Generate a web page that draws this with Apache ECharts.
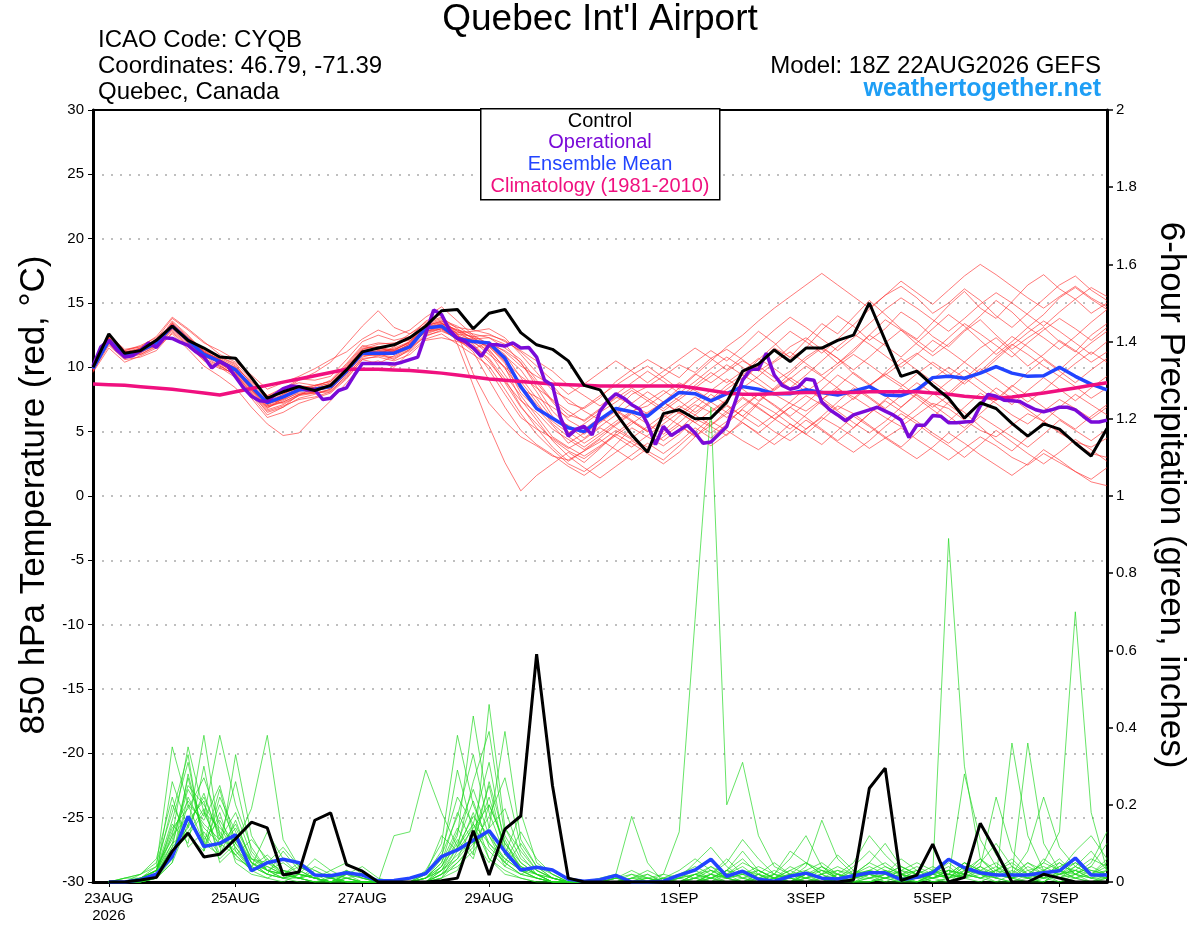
<!DOCTYPE html>
<html>
<head>
<meta charset="utf-8">
<script src="https://cdn.jsdelivr.net/npm/echarts@6/dist/echarts.min.js"></script>
<style>
  html, body { margin: 0; padding: 0; background: #fff; }
  #chart { width: 1200px; height: 927px; }
</style>
</head>
<body>
<div id="chart"></div>
<script>
// x is forecast hour counted from 22AUG2026 18Z
const tickHours = [6, 54, 102, 150, 222, 270, 318, 366];
const tickLabels = ['23AUG\n2026', '25AUG', '27AUG', '29AUG', '1SEP', '3SEP', '5SEP', '7SEP'];
const tempTicks = [-30, -25, -20, -15, -10, -5, 0, 5, 10, 15, 20, 25, 30];
const precipTicks = [0, 0.2, 0.4, 0.6, 0.8, 1, 1.2, 1.4, 1.6, 1.8, 2];

// 850 hPa temperature, 6-hourly (65 values)
const tempControl = [
  10.0, 12.6, 11.1, 11.3, 12.1, 13.2, 12.1, 11.5, 10.8, 10.7, 9.2, 7.6, 8.1, 8.5, 8.2, 8.6,
  9.8, 11.2, 11.5, 11.75, 12.3, 13.2, 14.4, 14.5, 13.0, 14.2, 14.5, 12.7, 11.75, 11.4, 10.5, 8.6,
  8.25, 6.45, 4.75, 3.4, 6.4, 6.7, 6.0, 6.05, 7.3, 9.7, 10.25, 11.35, 10.45, 11.5, 11.5, 12.1,
  12.5, 15.0, 12.1, 9.3, 9.7, 8.6, 7.6, 6.05, 7.25, 6.8, 5.65, 4.65, 5.6, 5.2, 4.1, 3.1, 5.25
];
const tempMean = [
  9.9, 12.1, 10.9, 11.3, 11.9, 13.2, 12.1, 11.0, 10.45, 9.8, 8.5, 7.25, 7.7, 8.25, 8.3, 8.5,
  9.7, 11.1, 11.1, 11.1, 11.6, 13.05, 13.2, 12.25, 12.0, 11.9, 10.7, 8.5, 6.8, 6.05, 5.3, 5.0,
  5.95, 6.8, 6.55, 6.2, 7.2, 8.05, 7.95, 7.4, 7.95, 8.5, 8.3, 7.95, 7.95, 8.25, 8.05, 7.85,
  8.15, 8.5, 7.85, 7.8, 8.25, 9.2, 9.3, 9.15, 9.55, 10.05, 9.55, 9.3, 9.35, 10.0, 9.3, 8.7, 8.25
];
const tempClimo = [
  8.7, 8.65, 8.6, 8.5, 8.4, 8.3, 8.15, 8.0, 7.85, 8.1, 8.35, 8.6, 8.85, 9.1, 9.35, 9.6,
  9.85, 9.85, 9.85, 9.8, 9.75, 9.65, 9.55, 9.4, 9.25, 9.1, 9.0, 8.9, 8.8, 8.7, 8.65, 8.6,
  8.55, 8.55, 8.55, 8.55, 8.55, 8.55, 8.4, 8.2, 8.0, 7.9, 7.9, 7.95, 8.0, 8.05, 8.05, 8.05,
  8.05, 8.1, 8.1, 8.1, 8.1, 8.0, 7.9, 7.75, 7.65, 7.6, 7.7, 7.85, 8.0, 8.2, 8.4, 8.6, 8.8
];
// operational run, 3-hourly (129 values)
const tempOper = [
  10.1, 11.6, 12.1, 11.35, 10.8, 10.9, 11.3, 11.9, 11.55, 12.3, 12.25, 11.95, 11.7, 11.2, 10.8, 9.95,
  10.45, 10.1, 9.25, 8.4, 7.75, 7.4, 7.35, 7.9, 8.35, 8.55, 8.5, 8.25, 8.25, 7.5, 7.6, 8.2,
  8.4, 9.4, 10.3, 10.3, 10.3, 10.3, 10.25, 10.4, 10.6, 10.8, 12.6, 14.45, 14.1, 12.9, 12.25, 12.0,
  11.5, 10.85, 11.75, 11.75, 11.65, 11.9, 11.5, 11.55, 10.8, 9.0, 8.6, 6.1, 4.65, 5.2, 5.4, 4.75,
  6.6, 7.4, 7.95, 7.6, 7.1, 6.75, 5.6, 4.0, 5.4, 4.7, 5.1, 5.5, 4.9, 4.1, 4.2, 4.8,
  5.4, 7.2, 9.0, 9.85, 9.85, 11.1, 9.4, 8.6, 8.3, 8.45, 9.1, 9.0, 7.3, 6.7, 6.3, 5.85,
  6.3, 6.5, 6.7, 6.9, 6.6, 6.3, 5.9, 4.55, 5.5, 5.5, 6.25, 6.2, 5.7, 5.7, 5.75, 5.8,
  7.0, 7.9, 7.75, 7.45, 7.4, 7.35, 7.0, 6.7, 6.55, 6.7, 6.9, 6.9, 6.7, 6.2, 5.75, 5.75,
  5.9
];
// ensemble members, 6-hourly (65 values each)
const tempMembers = [
  [9.8,12.3,11.0,11.2,11.8,13.5,12.4,11.3,10.6,9.9,8.2,6.9,7.4,8.1,8.6,8.9,10.1, 11.5,11.6,11.3,12.0,13.4,13.8,12.6,9.5,7.2,5.8, 4.6,3.9,3.1,2.8,3.5,4.2,5.1,4.4,3.8,5.0,6.2,7.1,6.5,7.4, 8.9,10.2,11.5,10.8,12.1,13.4,12.6,13.9,15.2,14.1,13.0,12.2,13.5,14.8,15.9,14.6,13.8,15.1,16.4,17.2,16.1,15.3,14.2,15.0],
  [10.0,11.8,10.7,11.4,12.0,12.9,11.8,10.7,10.1,9.4,8.0,6.5,6.9,7.6,7.9,8.3,9.5, 11.0,10.9,11.2,11.8,12.7,13.0,12.4,12.1,11.6,10.9, 9.8,8.1,6.2,5.0,4.1,4.9,5.8,6.6,7.0,7.9,8.8,8.2,7.5,8.6, 9.4,8.7,7.9,7.2,6.6,7.5,8.3,7.7,6.9,6.1,5.4,6.3,7.2,6.8,5.9,5.1,4.6,5.5,6.4,5.8,4.9,4.2,3.8,4.5],
  [9.7,12.0,11.2,11.1,12.2,13.8,12.9,11.9,11.3,10.6,9.1,7.8,8.2,9.0,9.6,10.4,11.8, 13.2,14.4,13.1,12.6,13.3,13.5,12.1,11.4,12.0,11.2, 10.1,9.3,8.6,7.2,6.8,7.6,8.9,9.8,10.6,9.9,9.2,10.4,11.3,10.5, 11.6,12.8,11.9,10.7,11.5,12.9,14.0,13.2,12.1,13.0,14.3,13.5,12.4,11.6,12.8,13.7,12.5,11.4,12.3,13.1,12.0,11.2,12.5,13.4],
  [9.6,11.5,10.4,10.9,11.5,12.6,11.4,10.1,9.3,8.4,6.9,5.6,4.7,4.9,6.2,7.4,8.8, 10.2,10.5,10.0,11.2,12.2,12.6,11.8,11.0,10.1,8.3, 6.4,4.8,3.6,2.5,1.9,2.8,4.0,5.3,4.6,3.9,4.8,6.0,5.4,4.7, 5.9,7.2,6.5,5.6,4.8,5.9,7.0,6.4,5.5,4.6,3.8,4.9,6.1,7.3,6.5,5.4,4.3,3.5,4.6,5.8,5.0,4.1,3.3,3.0],
  [10.1,12.4,11.3,11.7,12.3,13.3,12.0,10.9,10.4,10.0,8.9,7.7,8.0,8.4,8.0,8.2,9.3, 10.8,11.1,10.6,11.4,12.9,13.4,12.9,12.6,12.3,11.5, 10.6,9.0,7.4,6.3,5.9,6.8,7.7,7.1,6.4,7.3,8.4,9.5,8.8,9.7, 10.5,9.8,8.9,9.7,10.8,11.6,10.7,9.5,8.6,9.4,10.3,11.1,10.2,9.3,10.4,11.5,12.3,11.2,10.1,11.0,12.1,11.3,10.4,11.2],
  [9.9,12.2,11.1,11.0,11.6,13.0,12.2,11.4,10.8,10.2,8.7,7.2,7.9,8.6,8.4,8.8,10.0, 11.3,11.0,11.6,12.3,13.6,14.1,11.8,8.6,5.4,2.6, 0.4,1.6,2.5,3.4,2.6,3.7,4.9,5.8,5.0,6.1,7.0,6.3,5.5,6.4, 7.6,6.8,6.0,6.9,7.8,7.1,6.2,5.3,6.4,7.5,8.4,7.6,6.7,5.8,6.9,8.0,7.2,6.3,5.6,6.6,7.5,6.8,6.0,6.9],
  [9.8,11.9,10.8,11.5,12.1,13.1,11.9,10.8,10.5,9.7,8.3,7.0,7.3,7.9,8.1,8.6,9.9, 11.4,11.8,11.9,12.1,12.8,13.1,12.7,12.8,13.0,12.3, 11.0,9.6,8.2,7.5,6.6,5.9,6.7,7.9,8.5,9.3,10.2,9.6,10.7,11.4, 10.6,9.7,10.5,11.6,12.3,11.4,10.3,11.2,12.5,13.7,12.9,11.8,10.9,11.8,12.9,14.0,15.2,14.3,13.1,14.1,15.4,16.2,15.3,14.5],
  [10.2,12.1,10.9,11.3,11.9,13.6,12.5,11.2,10.2,9.3,7.6,6.1,6.5,7.2,7.6,8.0,9.1, 10.6,10.3,10.9,11.5,12.4,12.9,12.2,11.5,9.8,7.9, 6.1,5.2,4.5,3.7,4.4,5.3,4.6,3.8,4.7,5.6,6.5,5.7,4.9,5.8, 6.7,5.9,5.0,4.3,5.2,6.1,5.4,4.6,3.7,4.5,5.3,4.4,3.6,2.8,3.7,4.6,3.9,3.0,2.4,3.3,2.6,1.9,1.3,2.2],
  [9.9,12.5,11.4,11.6,12.4,13.9,13.0,12.0,11.0,10.4,9.4,8.3,8.8,9.3,9.9,10.6,11.2, 12.2,12.9,12.4,12.9,13.9,14.7,13.6,12.5,11.8,10.4, 8.6,7.1,5.8,4.9,5.6,6.5,7.3,8.2,7.4,6.6,7.5,8.4,9.3,10.2, 9.4,10.6,11.7,12.8,12.0,11.1,12.2,13.3,14.5,15.6,16.3,15.4,14.2,15.0,16.1,15.2,14.0,13.1,14.2,15.3,16.4,17.1,16.0,15.2],
  [9.7,11.7,10.6,10.8,11.3,12.7,11.6,10.6,10.0,9.2,7.9,6.6,7.0,7.5,7.7,8.1,9.4, 10.7,10.8,10.5,11.0,12.1,12.3,12.0,11.7,10.4,8.9, 7.4,6.5,5.2,4.4,3.6,4.5,5.5,6.4,5.6,4.8,5.7,6.8,7.9,7.1, 6.2,5.4,6.3,7.3,8.4,7.6,6.7,7.6,8.6,9.5,8.7,7.8,6.9,7.8,8.9,9.9,9.1,8.2,7.3,8.2,9.3,8.5,7.6,8.4],
  [10.0,12.2,11.0,11.4,12.0,13.4,12.3,11.1,10.7,10.1,8.8,7.5,7.2,7.8,8.5,9.0,10.3, 11.7,11.4,11.8,12.6,13.5,13.9,13.0,12.2,11.2,9.4, 7.8,6.2,4.6,3.8,3.1,3.9,4.8,4.1,3.3,2.5,3.4,4.6,5.8,5.1, 4.3,3.6,4.5,5.6,4.8,4.0,5.1,6.2,5.4,4.5,3.7,2.9,3.8,4.9,4.1,3.2,2.4,1.6,2.5,3.6,2.8,1.9,1.1,0.8],
  [9.8,12.0,10.8,11.2,11.7,12.8,11.7,10.5,9.9,9.6,8.5,7.4,8.3,9.1,9.0,9.3,10.6, 12.0,12.5,12.1,12.4,13.2,13.6,13.1,12.9,12.6,12.0, 11.3,10.5,9.7,8.6,7.8,7.0,7.9,8.8,9.7,8.9,8.0,8.9,9.9,10.8, 10.0,9.1,8.2,9.1,10.1,9.3,8.4,7.5,8.5,9.6,10.7,9.8,8.9,8.0,9.1,10.2,11.3,12.4,11.6,10.7,9.8,10.9,11.9,12.8],
  [10.1,12.3,11.2,11.5,12.2,13.1,12.1,11.0,10.3,9.5,8.1,6.8,7.6,8.2,8.1,8.5,9.8, 11.2,11.2,11.4,11.9,13.1,13.3,12.5,11.8,10.6,8.8, 6.9,5.6,4.4,3.5,2.9,3.8,4.7,5.6,6.5,7.3,6.5,5.7,6.6,7.5, 8.4,9.3,10.4,11.2,10.3,9.4,10.3,11.4,12.5,11.7,10.8,11.9,13.0,14.1,13.2,12.1,11.0,12.0,13.1,12.3,11.4,12.4,13.5,14.5],
  [9.9,12.1,11.1,11.3,12.0,13.2,12.0,11.1,10.4,9.8,8.4,7.1,7.7,8.3,8.3,8.4,9.6, 11.0,11.3,11.1,11.7,13.0,13.2,12.4,12.0,11.9,11.0, 9.2,7.6,6.0,5.5,4.8,5.7,6.6,5.8,5.0,5.9,6.8,7.7,6.9,6.1, 7.0,7.9,7.1,6.2,7.2,8.3,9.4,8.6,7.7,6.8,7.8,8.8,8.0,7.1,6.2,7.3,8.4,7.6,6.7,5.8,6.9,7.9,7.1,6.3],
  [9.8,12.4,11.3,11.6,12.1,13.4,12.2,11.2,10.6,9.9,8.6,7.3,7.8,8.4,8.6,8.7,9.8, 11.3,11.5,11.2,11.8,12.9,13.4,12.8,12.3,11.4,9.9, 8.3,7.7,6.9,6.1,6.9,7.8,8.6,9.4,10.1,9.2,8.3,9.4,10.5,11.6, 12.5,13.6,14.6,15.5,16.4,17.3,16.4,15.5,14.6,15.6,16.7,15.8,14.9,16.0,17.1,18.0,17.2,16.3,15.4,14.6,15.5,16.3,15.4,14.7],
  [10.0,11.9,10.7,11.0,11.7,13.0,11.9,10.9,10.1,9.4,7.8,6.3,6.9,7.9,8.0,8.1,9.2, 10.6,10.9,10.7,11.3,12.5,12.8,12.3,12.2,12.3,11.8, 10.3,8.8,7.3,5.9,5.2,6.1,5.3,4.5,5.4,6.3,5.5,4.6,5.5,6.6, 7.7,6.9,6.0,5.2,6.3,7.4,6.6,5.7,4.9,5.8,6.9,7.9,7.1,6.2,5.3,6.4,7.5,8.6,7.8,6.9,6.0,5.2,6.2,7.1],
  [9.9,12.2,11.0,11.5,12.1,13.3,12.3,11.2,10.5,9.8,8.5,7.2,7.5,8.0,8.2,8.6,9.7, 11.1,11.3,11.3,11.6,12.8,13.2,12.2,11.2,9.0,6.9, 5.1,4.0,3.2,2.3,1.6,2.5,3.4,4.3,3.5,2.8,3.9,5.0,6.1,7.0, 6.2,7.3,8.3,9.2,8.4,7.5,8.5,9.6,8.7,7.8,6.9,8.0,9.1,10.0,9.2,8.3,7.4,8.5,9.6,10.6,9.7,8.8,9.8,10.7],
  [9.7,12.0,10.9,11.1,11.8,13.1,12.0,11.0,10.4,9.7,8.3,7.0,7.5,8.3,8.3,8.5,9.8, 11.2,11.0,11.5,12.0,13.2,13.6,12.8,12.0,11.0,10.0, 8.9,7.3,5.6,4.6,3.8,4.7,5.6,6.5,7.4,8.2,7.4,6.5,7.4,8.3, 9.2,10.1,9.2,8.4,9.4,10.5,11.6,12.6,11.8,10.9,10.0,11.0,12.1,11.3,10.4,9.5,10.6,11.7,12.7,13.6,12.8,11.9,11.0,12.0],
  [10.1,12.1,11.1,11.3,11.9,13.3,12.2,11.1,10.6,10.0,8.6,7.4,7.9,8.5,8.4,8.5,9.6, 11.0,11.0,11.3,12.0,13.1,13.4,12.9,12.3,11.6,10.3, 8.0,6.8,5.5,4.1,4.9,5.8,6.7,5.9,5.1,4.3,5.2,6.3,7.3,6.5, 5.7,4.9,5.9,6.9,6.1,5.2,4.3,5.3,6.4,7.4,6.6,5.8,4.9,4.1,5.1,6.2,5.4,4.6,3.8,4.8,5.9,5.1,4.3,5.2],
  [9.9,12.2,11.0,11.2,12.0,13.2,12.1,11.0,10.5,9.8,8.4,7.1,7.6,8.2,8.2,8.4,9.7, 11.1,11.2,11.2,11.8,13.0,13.3,12.6,12.4,12.5,12.1, 11.2,10.1,9.0,7.9,8.7,9.6,10.5,9.7,8.8,9.7,10.6,11.5,10.7,9.8, 10.8,11.8,12.9,13.9,13.1,12.2,11.3,12.3,13.4,14.5,15.4,14.6,13.7,12.8,13.8,14.9,15.8,15.0,14.1,13.2,14.3,15.3,16.2,15.5],
  [10.0,12.3,11.2,11.4,12.0,13.0,12.0,11.0,10.4,9.6,8.2,6.9,7.3,7.9,8.1,8.7,10.0, 11.4,11.6,11.1,11.6,12.8,13.0,12.1,11.9,11.3,10.0, 7.5,5.9,4.3,3.1,2.2,1.4,2.3,3.2,4.1,3.3,4.2,5.3,4.5,5.6, 6.8,7.9,7.0,6.1,5.2,6.2,7.3,8.4,7.6,6.7,5.8,6.8,7.9,8.9,9.8,8.9,8.0,7.1,8.2,9.2,8.3,7.4,8.4,9.3],
  [9.8,12.1,10.9,11.3,11.9,13.4,12.3,11.3,10.8,10.3,9.0,7.8,8.4,8.8,8.6,8.9,10.2, 11.6,11.9,11.8,12.2,13.3,13.7,13.2,12.4,11.8,11.3, 10.4,8.5,6.6,5.4,4.5,5.4,6.3,7.2,8.1,7.3,6.4,7.3,8.2,9.1, 8.3,7.4,8.4,9.5,10.6,11.5,10.7,9.8,10.8,11.9,12.9,12.1,11.2,12.3,13.4,12.6,11.7,10.8,11.9,12.9,13.8,13.0,12.1,13.1],
  [9.9,12.0,10.8,11.2,11.8,13.1,12.0,10.9,10.3,9.5,8.0,6.7,7.1,7.8,8.0,8.3,9.5, 10.9,11.0,10.8,11.4,12.6,13.0,12.3,11.6,10.7,9.1, 7.0,5.3,3.8,2.7,3.5,4.4,3.6,2.8,3.7,4.6,5.5,4.7,3.9,4.8, 5.7,4.8,4.0,4.9,5.9,5.1,4.2,3.4,4.3,5.4,6.4,5.6,4.7,3.9,3.0,4.0,5.1,4.2,3.3,2.5,3.4,4.4,3.6,2.7],
  [10.0,12.2,11.1,11.4,12.1,13.3,12.2,11.2,10.6,9.9,8.5,7.2,7.7,8.3,8.4,8.6,9.8, 11.3,11.4,11.4,11.9,13.1,13.5,12.6,12.1,11.6,10.5, 9.3,8.4,7.5,6.6,5.8,6.7,7.6,8.4,7.6,6.8,7.7,8.6,9.6,8.8, 9.7,10.7,9.9,9.0,8.1,9.0,10.1,11.0,10.2,9.3,8.5,9.5,10.4,9.6,8.7,9.7,10.8,11.8,11.0,10.1,9.3,10.3,11.2,10.4]
];

// 6-hour precipitation (inches), 6-hourly from hour 6 (64 values)
const precipControl = [
  0, 0, 0.005, 0.012, 0.08, 0.127, 0.065, 0.072, 0.112, 0.155, 0.14, 0.018, 0.026, 0.16, 0.179, 0.045,
  0.028, 0, 0, 0, 0, 0.003, 0.01, 0.133, 0.018, 0.137, 0.171, 0.59, 0.25, 0.01, 0, 0,
  0, 0, 0, 0, 0, 0, 0, 0, 0, 0, 0, 0, 0, 0, 0, 0.005,
  0.243, 0.295, 0.004, 0.018, 0.098, 0, 0.012, 0.152, 0.079, 0, 0, 0.02, 0.01, 0, 0, 0
];
const precipMean = [
  0, 0, 0.006, 0.02, 0.066, 0.17, 0.092, 0.1, 0.122, 0.029, 0.05, 0.059, 0.05, 0.018, 0.016, 0.024,
  0.018, 0.003, 0.004, 0.01, 0.022, 0.066, 0.083, 0.108, 0.133, 0.079, 0.031, 0.038, 0.031, 0.007, 0.002, 0.006,
  0.017, 0, 0, 0.002, 0.018, 0.031, 0.059, 0.015, 0.028, 0.007, 0.002, 0.015, 0.023, 0.01, 0.008, 0.016,
  0.024, 0.024, 0.006, 0.012, 0.024, 0.059, 0.037, 0.024, 0.018, 0.018, 0.018, 0.024, 0.029, 0.062, 0.018, 0.018
];
const precipMembers = [
  [0,0,0.01,0.03,0.12,0.35,0.18,0.09,0.15,0.06,0.04,0.02,0.05,0.03,0.01,0.02,0, 0,0,0,0.02,0.08,0.22,0.15,0.31,0.09,0.04,0.02,0,0,0, 0,0.01,0,0,0,0,0.02,0.04,0.01,0,0,0.01,0.03,0.05,0.02,0,0, 0,0.01,0.03,0.02,0,0.01,0.04,0.02,0,0,0.01,0.03,0.06,0.02,0.01,0.03],
  [0,0,0,0.02,0.26,0.14,0.38,0.12,0.07,0.03,0.05,0.09,0.04,0.02,0,0.01,0, 0,0,0,0.01,0.04,0.12,0.43,0.18,0.07,0.03,0.01,0,0,0, 0,0,0.01,0.03,0.01,0,0,0.02,0.06,0.02,0,0,0,0.02,0.04,0.01,0.02, 0.05,0.03,0.01,0,0.02,0.01,0.05,0.03,0.01,0,0,0.02,0.01,0.04,0.08,0.03],
  [0,0.01,0.02,0.05,0.18,0.33,0.08,0.22,0.13,0.05,0.03,0.01,0.02,0.06,0.03,0.01,0, 0,0,0,0,0.03,0.06,0.11,0.05,0.14,0.08,0.03,0.01,0,0, 0.01,0.02,0,0,0,0.01,0.03,0.01,0,0,0.02,0,0,0.01,0.02,0.03,0.01, 0.02,0,0,0.01,0.03,0.06,0.03,0.01,0,0.02,0.05,0.02,0,0.01,0.02,0.04],
  [0,0,0,0.01,0.08,0.16,0.21,0.05,0.09,0.03,0.01,0,0.02,0.01,0,0,0, 0,0,0,0,0.01,0.05,0.09,0.26,0.11,0.03,0.02,0,0,0, 0,0.01,0,0,0.02,0.13,0.68,1.23,0.2,0.31,0.12,0.04,0.02,0.01,0,0,0, 0,0.01,0,0,0.02,0.04,0.01,0,0.02,0.01,0,0,0.03,0.01,0,0.01],
  [0,0,0.01,0.04,0.35,0.2,0.1,0.24,0.08,0.04,0.07,0.03,0.01,0,0.01,0.03,0.01, 0,0,0,0.03,0.1,0.38,0.2,0.1,0.05,0.13,0.06,0.02,0,0, 0,0,0,0,0.01,0,0,0.01,0.03,0.06,0.02,0,0.01,0.04,0.16,0.06,0.02, 0.03,0.05,0.02,0,0.01,0.03,0.02,0.05,0.1,0.04,0.01,0,0.02,0.03,0.01,0],
  [0,0,0,0.02,0.1,0.24,0.17,0.38,0.2,0.09,0.03,0.02,0.01,0,0,0,0, 0,0.12,0.13,0.29,0.18,0.09,0.15,0.06,0.02,0.01,0,0,0,0, 0,0,0,0,0,0.01,0.02,0,0,0,0.01,0.03,0.01,0,0,0.02,0.05, 0.12,0.07,0.03,0.01,0,0,0.02,0.01,0.03,0.06,0.02,0.01,0,0.02,0.05,0.13],
  [0,0,0.02,0.06,0.22,0.09,0.13,0.07,0.33,0.12,0.05,0.02,0.01,0.04,0.02,0,0, 0,0,0,0,0.02,0.09,0.26,0.39,0.12,0.05,0.02,0,0,0, 0,0.02,0.17,0.05,0,0,0.01,0.03,0.01,0,0,0.01,0.04,0.02,0,0.01,0, 0,0.01,0.02,0.04,0.02,0.01,0.28,0.11,0.04,0.02,0.01,0,0.03,0.05,0.02,0.01],
  [0,0,0,0.01,0.05,0.28,0.12,0.06,0.1,0.19,0.38,0.11,0.04,0.02,0.01,0,0, 0,0,0,0.01,0.05,0.14,0.07,0.46,0.14,0.06,0.03,0.01,0,0, 0,0,0,0.02,0,0,0,0.01,0.02,0.04,0.01,0,0,0,0.02,0.07,0.03, 0.01,0,0.02,0.03,0.01,0.02,0.05,0.02,0.01,0.36,0.12,0.03,0.01,0.02,0.04,0.02],
  [0,0.01,0.01,0.03,0.14,0.19,0.27,0.15,0.06,0.04,0.02,0.08,0.03,0.01,0,0.02,0.01, 0,0,0,0.02,0.07,0.17,0.33,0.14,0.19,0.07,0.02,0.01,0,0, 0,0,0.01,0.01,0,0,0,0,0.03,0.08,0.03,0.01,0.02,0.05,0.03,0.01,0.04, 0.08,0.04,0.02,0.01,0.02,0.89,0.3,0.06,0.02,0.01,0,0.01,0.02,0.03,0.01,0.01],
  [0,0,0,0.02,0.09,0.14,0.23,0.11,0.26,0.08,0.03,0.01,0.02,0.01,0.03,0.05,0.02, 0,0,0,0,0.01,0.03,0.12,0.25,0.07,0.18,0.05,0.02,0,0, 0,0.01,0.02,0,0,0.01,0.05,0.09,0.04,0.01,0,0.02,0.08,0.05,0.02,0,0.01, 0.03,0.02,0,0.01,0.03,0.02,0.01,0.04,0.22,0.08,0.03,0.01,0.05,0.02,0,0.02],
  [0,0,0.01,0.03,0.16,0.31,0.1,0.07,0.12,0.05,0.02,0.01,0,0,0.01,0.03,0.01, 0,0,0,0.01,0.06,0.29,0.13,0.08,0.04,0.02,0.01,0,0,0, 0,0,0,0,0,0,0,0.02,0.05,0.11,0.06,0.02,0,0.01,0.03,0.02,0, 0.01,0.03,0.01,0,0.02,0.05,0.02,0.01,0.03,0.02,0.08,0.22,0.09,0.04,0.02,0.05],
  [0,0,0,0.01,0.07,0.2,0.16,0.25,0.1,0.04,0.13,0.06,0.02,0.01,0,0.01,0, 0,0,0,0,0.02,0.04,0.08,0.14,0.39,0.11,0.04,0.01,0,0, 0,0,0,0.01,0,0,0.02,0.01,0,0.01,0.03,0.01,0,0.03,0.05,0.02,0, 0.02,0.01,0.03,0.05,0.03,0.01,0.02,0.04,0.01,0,0.02,0.05,0.13,0.7,0.18,0.03],
  [0,0.01,0.02,0.04,0.11,0.25,0.2,0.13,0.07,0.03,0.06,0.02,0.01,0,0,0,0, 0,0,0,0.02,0.12,0.08,0.18,0.06,0.03,0.01,0,0,0,0, 0,0,0,0,0.01,0.02,0.04,0.02,0,0,0,0.02,0.06,0.12,0.04,0.01,0, 0,0.02,0.04,0.02,0.01,0,0.03,0.06,0.02,0.01,0.04,0.02,0.01,0.03,0.06,0.04],
  [0,0,0,0.02,0.15,0.1,0.3,0.09,0.14,0.06,0.03,0.02,0.04,0.02,0.01,0,0, 0,0,0,0.01,0.03,0.11,0.06,0.2,0.1,0.04,0.02,0,0,0, 0,0,0.01,0,0,0,0.01,0.04,0.02,0,0.02,0.05,0.02,0,0.01,0.03,0.02, 0.04,0.02,0.01,0.02,0.04,0.02,0.01,0.15,0.07,0.02,0.36,0.1,0.03,0.01,0,0.01],
  [0,0,0.01,0.03,0.2,0.12,0.08,0.18,0.05,0.02,0.01,0.03,0.02,0.01,0,0.02,0.04, 0.01,0,0,0,0.04,0.1,0.21,0.09,0.05,0.02,0.01,0,0,0, 0,0,0,0.01,0.02,0.01,0,0.02,0.01,0.03,0.02,0,0,0.02,0.01,0,0.02, 0.05,0.1,0.04,0.02,0.01,0.03,0.02,0.01,0.02,0.04,0.02,0.05,0.03,0.08,0.12,0.06],
  [0,0,0,0.01,0.06,0.22,0.14,0.1,0.07,0.11,0.06,0.02,0.01,0.03,0.01,0,0, 0,0,0,0,0.02,0.06,0.15,0.1,0.06,0.03,0.01,0,0,0, 0,0.01,0.03,0.01,0,0,0.02,0.01,0.03,0.02,0.01,0,0.02,0.01,0.04,0.02,0.01, 0.02,0.01,0.02,0.01,0.03,0.01,0.04,0.02,0.01,0.03,0.01,0.02,0.04,0.03,0.02,0.06],
  [0,0,0.01,0.02,0.09,0.27,0.11,0.16,0.09,0.04,0.02,0.01,0.03,0.01,0.02,0.01,0, 0,0,0,0.01,0.04,0.13,0.24,0.12,0.04,0.1,0.04,0.01,0,0, 0,0,0,0,0.01,0.03,0.06,0.03,0.01,0,0.01,0.02,0.01,0,0,0.01,0.03, 0.02,0.01,0,0,0.01,0.02,0.05,0.03,0.02,0.01,0.02,0.01,0.02,0.05,0.03,0.02],
  [0,0,0,0.02,0.12,0.17,0.09,0.2,0.11,0.05,0.03,0.05,0.02,0.01,0,0.01,0.02, 0,0,0,0,0.03,0.07,0.11,0.22,0.08,0.04,0.02,0,0,0, 0,0,0,0,0,0.02,0.01,0,0.02,0.05,0.03,0.01,0,0.01,0.02,0.04,0.02, 0.03,0.02,0.06,0.03,0.01,0.02,0.01,0.03,0.05,0.02,0.01,0.06,0.03,0.02,0.04,0.1],
  [0,0,0.01,0.03,0.1,0.13,0.19,0.07,0.16,0.05,0.02,0.01,0.01,0,0,0.02,0.01, 0,0,0,0.01,0.05,0.18,0.1,0.13,0.05,0.02,0.04,0.02,0,0, 0,0,0.02,0.01,0,0,0,0.01,0.03,0.01,0.02,0.01,0.03,0.01,0,0.02,0.01, 0.01,0.02,0.01,0.03,0.02,0.01,0.03,0.02,0.04,0.01,0.03,0.04,0.02,0.01,0.03,0.02],
  [0,0,0,0.01,0.05,0.15,0.22,0.12,0.08,0.03,0.04,0.02,0.01,0.02,0.01,0,0, 0,0,0,0,0.02,0.05,0.1,0.17,0.27,0.09,0.03,0.01,0,0, 0,0,0,0,0,0,0.01,0.02,0.01,0.02,0.04,0.02,0.01,0,0.01,0.02,0.01, 0.02,0.04,0.02,0.01,0.01,0.03,0.02,0.06,0.03,0.01,0.02,0.03,0.05,0.02,0.01,0.02],
  [0,0,0.01,0.02,0.08,0.12,0.18,0.14,0.1,0.06,0.05,0.03,0.02,0.01,0,0,0, 0,0,0,0,0.01,0.08,0.14,0.2,0.1,0.05,0.02,0.01,0,0, 0,0,0.01,0.02,0,0,0.01,0,0.01,0.02,0.03,0.01,0,0.02,0.03,0.01,0, 0.01,0.02,0.04,0.02,0,0.01,0.02,0.04,0.02,0.01,0.05,0.03,0.02,0.04,0.02,0.01],
  [0,0,0,0.03,0.13,0.21,0.15,0.11,0.18,0.07,0.03,0.02,0.01,0.02,0.01,0,0, 0,0,0,0.01,0.03,0.09,0.17,0.12,0.06,0.03,0.01,0,0,0, 0,0.01,0,0,0,0.01,0.02,0.03,0.02,0.01,0,0.01,0.02,0.03,0.01,0,0.01, 0.02,0.03,0.02,0.01,0.02,0.03,0.01,0.02,0.03,0.05,0.02,0.01,0.04,0.06,0.02,0.03]
];

const FONT = '"Liberation Sans", Arial, Helvetica, sans-serif';
const RED = 'rgba(255,45,45,0.8)';
const GREEN = 'rgba(30,215,30,0.85)';
const BLUE = '#2244ff';
const PURPLE = '#7a0ad8';
const PINK = '#f0107f';

// pair values with forecast hour
function withHours(vals, step, first) {
  return vals.map((v, i) => [(first + i) * step, v]);
}

const series = [];
tempMembers.forEach(m => series.push({
  type: 'line', yAxisIndex: 0, data: withHours(m, 6, 0), symbol: 'none',
  lineStyle: { color: RED, width: 0.8 }, silent: true
}));
precipMembers.forEach(m => series.push({
  type: 'line', yAxisIndex: 1, data: withHours(m, 6, 1), symbol: 'none',
  lineStyle: { color: GREEN, width: 0.8 }, silent: true
}));
series.push(
  { type: 'line', yAxisIndex: 1, data: withHours(precipMean, 6, 1), symbol: 'none', lineStyle: { color: BLUE, width: 3.5 } },
  { type: 'line', yAxisIndex: 1, data: withHours(precipControl, 6, 1), symbol: 'none', lineStyle: { color: '#000', width: 3 } },
  { type: 'line', yAxisIndex: 0, data: withHours(tempMean, 6, 0), symbol: 'none', lineStyle: { color: BLUE, width: 3.5 } },
  { type: 'line', yAxisIndex: 0, data: withHours(tempClimo, 6, 0), symbol: 'none', lineStyle: { color: PINK, width: 3.5 } },
  { type: 'line', yAxisIndex: 0, data: withHours(tempOper, 3, 0), symbol: 'none', lineStyle: { color: PURPLE, width: 3.5 } },
  { type: 'line', yAxisIndex: 0, data: withHours(tempControl, 6, 0), symbol: 'none', lineStyle: { color: '#000', width: 3 } }
);

const chart = echarts.init(document.getElementById('chart'));
chart.setOption({
  animation: false,
  backgroundColor: '#fff',
  textStyle: { fontFamily: FONT },
  title: [
    { text: "Quebec Int'l Airport", left: 'center', top: 1, padding: 0,
      textStyle: { fontSize: 37, fontWeight: 'normal', color: '#000', fontFamily: FONT } },
    { text: 'ICAO Code: CYQB\nCoordinates: 46.79, -71.39\nQuebec, Canada', left: 98, top: 27, padding: 0,
      textStyle: { fontSize: 24, fontWeight: 'normal', color: '#000', lineHeight: 26, fontFamily: FONT } },
    { text: 'Model: 18Z 22AUG2026 GEFS', right: 99, top: 54, padding: 0,
      textStyle: { fontSize: 24, fontWeight: 'normal', color: '#000', fontFamily: FONT } },
    { text: 'weathertogether.net', right: 99, top: 77, padding: 0,
      textStyle: { fontSize: 25, fontWeight: 'bold', color: '#1e9ef5', fontFamily: FONT } }
  ],
  grid: { left: 93, right: 93, top: 110, bottom: 45 },
  xAxis: [
    {
      type: 'value', min: 0, max: 384,
      axisLine: { onZero: false, lineStyle: { color: '#000', width: 3 } },
      axisTick: { customValues: tickHours, length: 5, lineStyle: { color: '#000', width: 1 } },
      axisLabel: {
        customValues: tickHours, color: '#000', fontSize: 15, margin: 8, lineHeight: 17,
        formatter: v => tickLabels[tickHours.indexOf(v)] || ''
      },
      splitLine: { show: false }
    },
    {
      // plain frame line along the top of the plot
      type: 'value', min: 0, max: 384, position: 'top', z: 5,
      axisLine: { show: true, onZero: false, lineStyle: { color: '#000', width: 2 } },
      axisTick: { show: false }, axisLabel: { show: false }, splitLine: { show: false }
    }
  ],
  yAxis: [
    {
      type: 'value', min: -30, max: 30, interval: 5, position: 'left',
      axisLine: { show: true, onZero: false, lineStyle: { color: '#000', width: 3 } },
      axisTick: { show: true, length: 5, lineStyle: { color: '#000' } },
      axisLabel: { color: '#000', fontSize: 15, margin: 9,
        formatter: v => tempTicks.includes(v) ? String(v) : '' },
      splitLine: { show: true, lineStyle: { color: '#aaa', width: 1.5, type: [2, 7] } }
    },
    {
      type: 'value', min: 0, max: 2, interval: 0.2, position: 'right',
      axisLine: { show: true, onZero: false, lineStyle: { color: '#000', width: 3 } },
      axisTick: { show: true, length: 6, lineStyle: { color: '#000', width: 1.5 } },
      axisLabel: { color: '#000', fontSize: 15, margin: 9,
        formatter: v => String(precipTicks.find(t => Math.abs(t - v) < 1e-6) ?? '') },
      splitLine: { show: false }
    }
  ],
  graphic: [
    { type: 'rect', left: 480, top: 108, z: 100,
      shape: { width: 239, height: 91 },
      style: { fill: '#fff', stroke: '#000', lineWidth: 1.5 } },
    { type: 'text', x: 600, y: 121, z: 101,
      style: { text: 'Control', fill: '#000', font: '20px ' + FONT, textAlign: 'center', textVerticalAlign: 'middle' } },
    { type: 'text', x: 600, y: 142, z: 101,
      style: { text: 'Operational', fill: PURPLE, font: '20px ' + FONT, textAlign: 'center', textVerticalAlign: 'middle' } },
    { type: 'text', x: 600, y: 164, z: 101,
      style: { text: 'Ensemble Mean', fill: BLUE, font: '20px ' + FONT, textAlign: 'center', textVerticalAlign: 'middle' } },
    { type: 'text', x: 600, y: 186, z: 101,
      style: { text: 'Climatology (1981-2010)', fill: PINK, font: '20px ' + FONT, textAlign: 'center', textVerticalAlign: 'middle' } },
    { type: 'text', x: 34, y: 495, rotation: Math.PI / 2, z: 101,
      style: { text: '850 hPa Temperature (red, \u00B0C)', fill: '#000', font: '35px ' + FONT, textAlign: 'center', textVerticalAlign: 'middle' } },
    { type: 'text', x: 1171, y: 495, rotation: -Math.PI / 2, z: 101,
      style: { text: '6-hour Precipitation (green, inches)', fill: '#000', font: '35px ' + FONT, textAlign: 'center', textVerticalAlign: 'middle' } }
  ],
  series: series
});
</script>
</body>
</html>
